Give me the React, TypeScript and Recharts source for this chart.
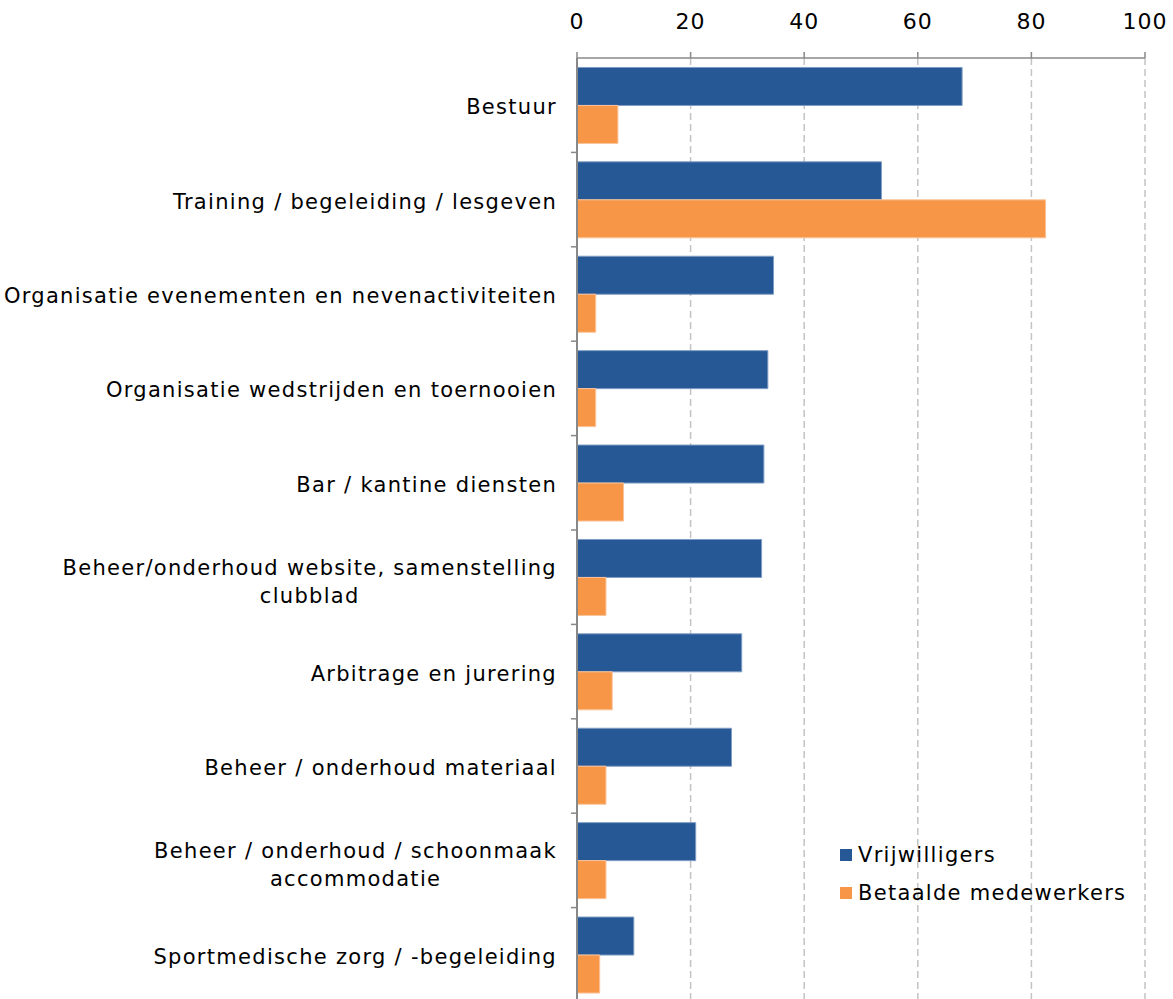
import React from 'react';
import { BarChart, Bar, XAxis, YAxis, CartesianGrid } from 'recharts';

const categories = [
  'Bestuur',
  'Training / begeleiding / lesgeven',
  'Organisatie evenementen en nevenactiviteiten',
  'Organisatie wedstrijden en toernooien',
  'Bar / kantine diensten',
  'Beheer/onderhoud website, samenstelling\nclubblad',
  'Arbitrage en jurering',
  'Beheer / onderhoud materiaal',
  'Beheer / onderhoud / schoonmaak\naccommodatie',
  'Sportmedische zorg / -begeleiding',
];
const vrijwilligers = [67.8, 53.6, 34.6, 33.6, 32.9, 32.5, 29.0, 27.2, 20.9, 10.0];
const betaalde = [7.2, 82.5, 3.3, 3.3, 8.2, 5.1, 6.2, 5.1, 5.1, 4.0];
const xTicks = [0, 20, 40, 60, 80, 100];
const seriesNames = ['Vrijwilligers', 'Betaalde medewerkers'];

const BLUE = '#265895';
const ORANGE = '#F79646';
const FONT = '"DejaVu Sans", Verdana, sans-serif';
const LABEL_SIZE = 21;
const LABEL_SPACING = 1.3;

const W = 1173;
const H = 1010;
const PLOT_LEFT = 577;
const PLOT_RIGHT = 1145;
const PLOT_TOP = 58;
const PLOT_BOTTOM = 1002;
const BAND = (PLOT_BOTTOM - PLOT_TOP) / categories.length;

const data = categories.map((c, i) => ({ name: c, v: vrijwilligers[i], b: betaalde[i] }));

let ctx: CanvasRenderingContext2D | null = null;
const measure = (s: string) => {
  if (!ctx) {
    const c = document.createElement('canvas');
    ctx = c.getContext('2d');
  }
  if (!ctx) return s.length * 12;
  ctx.font = `${LABEL_SIZE}px "DejaVu Sans"`;
  return ctx.measureText(s).width + s.length * LABEL_SPACING;
};

const YTick = (props: any) => {
  const { y, payload, index } = props;
  const lines = String(payload.value).split('\n');
  const xEnd = PLOT_LEFT - 20;
  const topB = y - BAND / 2;
  const tp = { fontSize: LABEL_SIZE, fontFamily: FONT, fill: '#000', letterSpacing: LABEL_SPACING };
  return (
    <g>
      {index > 0 && (
        <line x1={PLOT_LEFT - 6} x2={PLOT_LEFT} y1={topB} y2={topB} stroke="#888" strokeWidth={1.5} />
      )}
      {lines.length === 1 ? (
        <text x={xEnd} y={y + 9} textAnchor="end" {...tp}>
          {lines[0]}
        </text>
      ) : (
        <g>
          <text x={xEnd} y={y - 2} textAnchor="end" {...tp}>
            {lines[0]}
          </text>
          <text x={xEnd - measure(lines[0]) / 2} y={y + 26} textAnchor="middle" {...tp}>
            {lines[1]}
          </text>
        </g>
      )}
    </g>
  );
};

const XTick = (props: any) => {
  const { x, payload } = props;
  return (
    <g>
      <line x1={x} x2={x} y1={PLOT_TOP - 6} y2={PLOT_TOP} stroke="#888" strokeWidth={1.5} />
      <text x={x} y={29} textAnchor="middle" fontSize={22} fontFamily={FONT} fill="#000" letterSpacing={1}>
        {payload.value}
      </text>
    </g>
  );
};

const LegendBox = () => (
  <div
    style={{
      position: 'absolute',
      left: 840,
      top: 836,
      fontFamily: FONT,
      fontSize: LABEL_SIZE,
      letterSpacing: LABEL_SPACING,
      color: '#000',
    }}
  >
    {seriesNames.map((n, i) => (
      <div key={n} style={{ display: 'flex', alignItems: 'center', height: 38, whiteSpace: 'nowrap' }}>
        <span
          style={{
            display: 'inline-block',
            width: 12,
            height: 12,
            background: i === 0 ? BLUE : ORANGE,
            marginRight: 6,
          }}
        />
        <span>{n}</span>
      </div>
    ))}
  </div>
);

export default function App() {
  return (
    <div style={{ position: 'absolute', left: 0, top: 0, width: W, height: 999, overflow: 'hidden', background: '#fff' }}>
      <BarChart
        width={W}
        height={H}
        data={data}
        layout="vertical"
        margin={{ top: 0, right: W - PLOT_RIGHT, bottom: H - PLOT_BOTTOM, left: 0 }}
        barCategoryGap="10%"
        barGap={0}
      >
        <CartesianGrid horizontal={false} vertical stroke="#c4c4c4" strokeDasharray="7 4" strokeWidth={1.5} />
        <XAxis
          type="number"
          orientation="top"
          domain={[0, 100]}
          ticks={xTicks}
          height={PLOT_TOP}
          axisLine={{ stroke: '#888', strokeWidth: 1.5 }}
          tickLine={false}
          tick={<XTick />}
          interval={0}
        />
        <YAxis
          type="category"
          dataKey="name"
          width={PLOT_LEFT}
          axisLine={{ stroke: '#888', strokeWidth: 2 }}
          tickLine={false}
          tick={<YTick />}
          interval={0}
        />
        <Bar dataKey="v" name={seriesNames[0]} fill={BLUE} stroke="#7f9cc4" strokeWidth={1} isAnimationActive={false} />
        <Bar dataKey="b" name={seriesNames[1]} fill={ORANGE} stroke="#fbc39a" strokeWidth={1} isAnimationActive={false} />
      </BarChart>
      <LegendBox />
    </div>
  );
}
